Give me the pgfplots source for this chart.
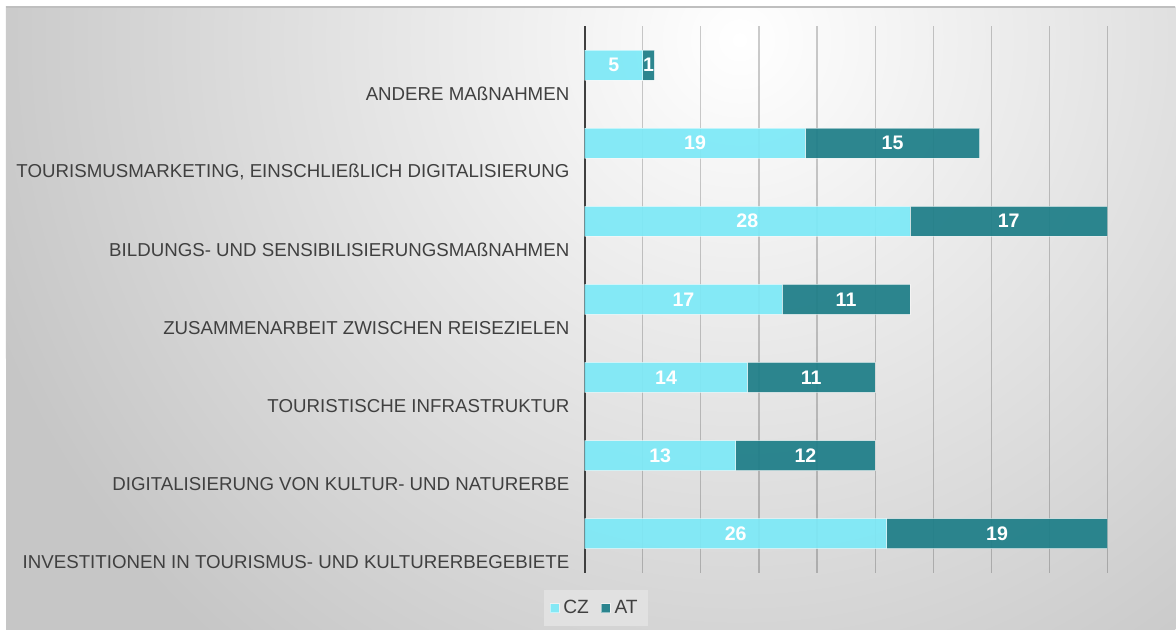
\documentclass[border=0pt]{standalone}
\usepackage{fontspec}
\setmainfont{Liberation Sans}
\usepackage{pgfplots}
\usepackage{pgfplotstable}
\pgfplotsset{compat=1.18}
\definecolor{cCZ}{HTML}{7DE9F7}
\definecolor{cAT}{HTML}{1E7E88}
\definecolor{cTxt}{HTML}{404040}
\definecolor{cBgOut}{HTML}{C6C6C6}
\definecolor{cLeg}{HTML}{E1E1E1}

% idx 0 = bottom category
\pgfplotstableread{
idx cz at
0 26 19
1 13 12
2 14 11
3 17 11
4 28 17
5 19 15
6 5 1
}\datatable

\pgfplotsset{chartframe/.style={
  at={(292.5pt,28.5pt)}, anchor=south west,
  scale only axis, width=261.5pt, height=273.5pt,
  xmin=0, xmax=45, ymin=-0.5, ymax=6.5}}

\begin{document}
\begin{tikzpicture}
\fill[white] (0,0) rectangle (588pt,315pt);
\begin{scope}
  \clip (3pt,0) rectangle (588pt,311.5pt);
  \fill[cBgOut] (3pt,0) rectangle (588pt,311.5pt);
  \shade[inner color=white, outer color=cBgOut] (370pt,295pt) circle (400pt);
\end{scope}
\draw[black!25, line width=0.6pt] (3pt,311.5pt) -- (588pt,311.5pt);
\begin{axis}[
  chartframe,
  xbar stacked, bar width=15pt,
  axis lines*=left,
  x axis line style={draw=none},
  y axis line style={draw=cTxt, line width=1pt, -},
  xtick={0,5,...,45}, xticklabels={},
  xmajorgrids, grid style={black, opacity=0.2, line width=0.6pt},
  major tick style={draw=none},
  ytick={-0.37,0.63,1.63,2.63,3.63,4.63,5.63},
  yticklabels={INVESTITIONEN IN TOURISMUS- UND KULTURERBEGEBIETE,
    DIGITALISIERUNG VON KULTUR- UND NATURERBE\hspace{2.5pt},
    TOURISTISCHE INFRASTRUKTUR,
    ZUSAMMENARBEIT ZWISCHEN REISEZIELEN,
    BILDUNGS- UND SENSIBILISIERUNGSMAßNAHMEN,
    {TOURISMUSMARKETING, EINSCHLIEßLICH DIGITALISIERUNG},
    ANDERE MAßNAHMEN},
  y tick label style={font=\fontsize{9.35}{11}\selectfont, text=cTxt, anchor=east, inner sep=0pt, xshift=-7.5pt},
  legend columns=2,
  legend style={at={(0.021,-0.065)}, anchor=center, fill=cLeg, draw=none,
    font=\fontsize{9.6}{11}\selectfont, text=cTxt, inner xsep=3pt, inner ysep=3pt,
    /tikz/every even column/.append style={column sep=4pt}},
  legend image code/.code={\fill[#1] (0pt,-2.2pt) rectangle (4.4pt,2.2pt);},
]
\addplot[fill=cCZ, draw=white, draw opacity=0.5, fill opacity=0.93] table[x=cz, y=idx] {\datatable};
\addplot[fill=cAT, draw=white, draw opacity=0.5, fill opacity=0.93] table[x=at, y=idx] {\datatable};
\legend{CZ, AT}
\end{axis}
% value labels, centred in each segment
\begin{axis}[
  chartframe, hide axis,
  /pgf/number format/assume math mode=true,
  nodes near coords,
  nodes near coords style={font=\bfseries\fontsize{9.8}{11}\selectfont, text=white, anchor=center},
]
\addplot[draw=none, mark=none, point meta=explicit] table[x expr=\thisrow{cz}/2, y=idx, meta=cz] {\datatable};
\addplot[draw=none, mark=none, point meta=explicit] table[x expr=\thisrow{cz}+\thisrow{at}/2, y=idx, meta=at] {\datatable};
\end{axis}
\end{tikzpicture}
\end{document}
